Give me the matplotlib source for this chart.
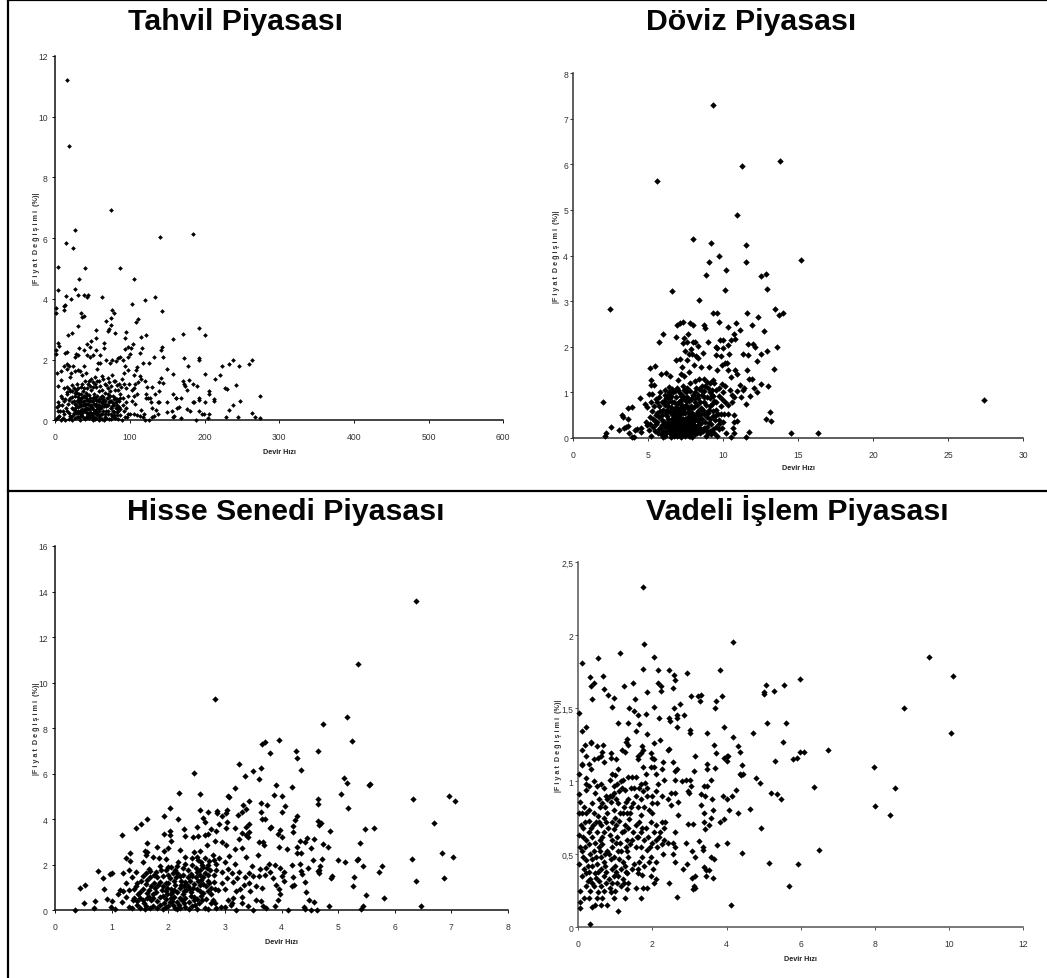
import matplotlib
matplotlib.use("Agg")
import matplotlib.pyplot as plt
import numpy as np
from matplotlib.lines import Line2D

plt.rcParams["font.family"] = ["Liberation Sans", "DejaVu Sans"]

W, H = 1047, 979

# (devir hizi, |fiyat degisimi|)
tahvil = [
    (15,11.2),(18,9.03),(75,6.92),(185,6.13),(140,6.05),(26,6.27),(14,5.84),(24,5.67),(3,5.05),(40,5.02),(87,5.01),
    (106,4.66),(32,4.67),(3,4.3),(27,4.33),(30,4.12),(38,4.13),(43,4.05),(44,4.13),(63,4.05),(14,4.08),(21,4.0),
    (133,4.05),(120,3.96),(103,3.83),(1,3.7),(1,3.52),(11,3.78),(13,3.8),(11,3.63),(35,3.54),(36,3.4),(38,3.43),
    (30,3.1),(76,3.63),(79,3.55),(143,3.6),(74,3.37),(68,3.26),(74,3.15),(111,3.35),(108,3.23),(71,2.95),(72,3.0),
    (80,2.88),(55,2.97),(95,2.92),(192,3.05),(171,2.83),(201,2.8),(121,2.82),(115,2.73),(158,2.68),(17,2.8),(23,2.88),
    (54,2.7),(93,2.7),(48,2.6),(65,2.53),(43,2.5),(104,2.5),(3,2.55),(5,2.45),(1,2.2),(1,2.3),(65,2.38),(32,2.37),
    (38,2.3),(47,2.4),(55,2.33),(94,2.35),(98,2.4),(102,2.38),(143,2.4),(141,2.33),(116,2.38),(15,2.25),(13,2.22),
    (28,2.2),(26,2.1),(30,2.15),(43,2.15),(46,2.1),(50,2.15),(60,2.15),(100,2.2),(98,2.1),(113,2.22),(144,2.1),
    (172,2.05),(193,2.05),(192,1.98),(238,2.0),(264,2.0),(223,1.78),(233,1.85),(246,1.78),(259,1.87),(178,1.8),
    (125,1.9),(117,1.9),(132,2.08),(149,1.68),(157,1.54),(171,1.3),(172,1.2),(174,1.12),(176,1.0),(179,1.33),
    (184,1.18),(200,1.52),(190,1.12),(214,1.35),(220,1.5),(227,1.05),(230,1.03),(242,1.15),(206,0.95),(206,0.85),
    (212,0.7),(213,0.65),(158,0.85),(161,0.75),(162,0.72),(168,0.72),(184,0.6),(186,0.6),(192,0.68),(193,0.75),
    (201,0.6),(247,0.65),(238,0.5),(232,0.35),(274,0.8),(264,0.25),(267,0.12),(274,0.07),(245,0.12),(228,0.12),
    (206,0.22),(204,0.07),(197,0.22),(199,0.2),(192,0.3),(176,0.38),(181,0.32),(165,0.45),(163,0.4),(156,0.32),
    (150,0.28),(149,0.6),(139,0.6),(137,0.6),(135,0.35),(133,0.85),(130,0.4),(129,0.1),(126,0.02),(120,0.0),
    (119,0.2),(118,0.12),(113,0.15),(110,0.18),(105,0.2),(100,0.2),(96,0.1),(188,0.0),(168,0.07),(159,0.15),
    (158,0.1),(137,0.2),(132,0.15),(128,0.6),(124,0.75),(122,0.85),(121,0.75),(127,0.75),(130,1.1),(123,1.1),
    (120,1.3),(113,1.45),(111,1.25),(107,1.2),(105,1.05),(103,1.0),(109,0.85),(105,0.8),(103,0.65),(107,0.55),
    (115,0.35),(141,1.4),(139,1.25),(144,1.22),(139,0.98),(115,1.35),(109,1.75),(108,1.65),(105,1.5),
    (8,1.62),(2,1.55),(4,1.12),(7,1.32),(11,1.8),(15,1.85),(16,1.7),(18,1.8),(21,1.55),(24,1.78),(20,1.42),(27,1.62),
    (31,1.65),(33,1.62),(36,1.5),(39,1.78),(41,1.55),(45,1.3),(48,1.35),(51,1.25),(53,1.43),(56,1.68),(57,1.9),
    (60,1.9),(62,1.45),(59,1.3),(68,2.0),(71,1.4),(73,1.9),(76,2.0),(76,1.5),(78,1.3),(81,1.95),(84,2.05),(87,2.07),
    (89,1.35),(90,1.98),(92,1.55),(94,1.8),(97,1.65),(99,1.2),(95,1.05),(85,1.2),(84,1.0),(71,1.05),(66,1.2),(63,1.0),
    (12,1.05),(16,1.1),(20,0.95),(23,1.15),(26,0.9),(29,1.2),(31,1.05),(34,0.85),(37,0.95),(41,0.9),(43,1.05),(48,1.0),
    (52,0.85),(55,1.1),(58,0.95),(62,0.8),(66,0.9),(70,0.85),(73,0.95),(77,0.8),(80,1.0),(83,0.7),(87,0.85),(91,0.75),
    (95,0.6),(98,0.8),(2,0.45),(4,0.6),(6,0.3),(7,0.8),(9,0.5),(11,0.62),(12,0.2),(14,0.4),(15,0.88),(17,0.55),(19,0.25),
    (20,0.72),(22,0.42),(24,0.18),(25,0.62),(26,0.35),(27,0.8),(28,0.5),(29,0.12),(30,0.68),(31,0.3),(32,0.85),(33,0.48),
    (34,0.2),(35,0.72),(36,0.38),(37,0.6),(38,0.08),(39,0.8),(40,0.5),(41,0.28),(42,0.68),(43,0.15),(44,0.55),(45,0.82),
    (46,0.36),(47,0.62),(48,0.1),(49,0.45),(50,0.72),(51,0.24),(52,0.55),(53,0.04),(54,0.66),(55,0.34),(56,0.8),(57,0.18),
    (58,0.5),(59,0.7),(60,0.06),(61,0.4),(62,0.6),(63,0.22),(64,0.78),(65,0.48),(66,0.12),(67,0.62),(68,0.32),(69,0.72),
    (70,0.2),(71,0.52),(72,0.04),(73,0.8),(74,0.4),(75,0.62),(76,0.14),(77,0.3),(78,0.7),(79,0.5),(80,0.08),(81,0.6),
    (82,0.26),(83,0.42),(85,0.62),(86,0.16),(87,0.36),(89,0.02),(90,0.5),(92,0.3),(93,0.12),(95,0.42),(97,0.2),
    (1,0.05),(3,0.1),(5,0.15),(8,0.02),(10,0.08),(13,0.0),(18,0.05),(21,0.1),(23,0.02),(27,0.06),(31,0.1),(33,0.02),
    (36,0.14),(40,0.04),(42,0.12),(45,0.06),(47,0.2),(50,0.02),(52,0.1),(55,0.08),(58,0.02),(62,0.05),(65,0.02),(68,0.08),
    (74,0.03),(78,0.1),(84,0.05),(28,0.25),(33,0.3),(38,0.35),(43,0.42),(37,0.5),(32,0.58),(41,0.72),(35,0.52),(47,0.28),
    (23,0.78),(26,0.55),(29,0.9),(31,0.45),(33,0.7),(35,0.3),(37,0.78),(39,0.62),(41,0.42),(43,0.82),(45,0.62),(46,0.22),
    (48,0.52),(50,0.38),(52,0.78),(54,0.46),(56,0.25),(58,0.62),(60,0.42),(62,0.7),(64,0.32),(66,0.55),(68,0.46),(70,0.72),
    (72,0.6),(74,0.22),(76,0.48),(78,0.16),(80,0.72),(82,0.52),(84,0.3),(86,0.74),(30,0.25),(34,0.62),(38,0.5),(42,0.25),
    (44,0.38),(47,0.72),(49,0.18),(51,0.62),(53,0.3),(55,0.55),(57,0.42),(59,0.14),(61,0.78),(63,0.46),(65,0.66),(67,0.2),
    (69,0.52),(71,0.3),(73,0.62),(75,0.42),(77,0.56),(79,0.28),(81,0.42),(83,0.18),(85,0.45),(25,0.25),(27,0.42),(29,0.62),
    (31,0.78),(33,0.12),(35,0.18),(37,0.28),(39,0.35),(41,0.55),(43,0.68),(45,0.18),(47,0.48),(49,0.62),(51,0.08),(53,0.72),
    (55,0.2),(57,0.62),(59,0.32),(61,0.22),(63,0.58),(10,0.3),(13,0.7),(16,0.32),(18,0.68),(20,0.15),(22,0.6),(24,0.38),
    (9,0.75),(5,0.5),(3,0.3),(16,0.92),(19,1.02),(22,0.98),(25,1.05),(28,1.0),(34,1.1),(36,1.2),(38,1.05),(40,1.28),(44,1.2),
    (46,1.12),(50,1.1),(53,1.18),(56,1.3),(60,1.12),(64,1.35),(68,1.15),(72,1.25),(75,1.12),(80,1.3),(82,1.15),(88,1.1),(92,1.18),
]
tahvil_x_ticks = [0, 100, 200, 300, 400, 500, 600]
tahvil_y_ticks = [0, 2, 4, 6, 8, 10, 12]

doviz = [
    (9.35,7.3),(13.8,6.07),(11.25,5.96),(5.6,5.63),(10.95,4.89),(8,4.37),(9.2,4.27),(11.5,4.23),(9.75,4.0),(15.2,3.91),
    (9.05,3.85),(11.5,3.85),(10.2,3.68),(12.85,3.6),(12.5,3.56),(8.85,3.58),(12.9,3.27),(10.1,3.25),(6.6,3.23),(8.4,3.03),
    (2.45,2.83),(13.45,2.82),(9.3,2.75),(9.6,2.74),(11.6,2.75),(14,2.73),(13.75,2.69),(12.3,2.66),(7.3,2.55),(7.1,2.52),
    (6.95,2.48),(7.8,2.53),(8,2.47),(8.7,2.48),(8.8,2.42),(9.75,2.55),(10.85,2.51),(11.95,2.47),(10.35,2.44),(11.1,2.36),
    (12.7,2.34),(10.7,2.28),(6.0,2.28),(7.65,2.28),(5.7,2.1),(6.85,2.22),(7.4,2.2),(10.8,2.18),(10.5,2.15),(9.8,2.14),
    (10,2.15),(9,2.1),(7.3,2.08),(7.6,2.1),(8,2.1),(8.1,2.1),(12,2.07),(11.65,2.07),(12.15,2.0),(13.6,2.0),(9.5,2.0),
    (9.6,1.97),(10,1.97),(10.3,2.04),(8.35,2.02),(12.9,1.9),(7.45,1.9),(7.85,1.95),(7.75,1.85),(7.95,1.85),(8.65,1.87),
    (9.55,1.82),(9.85,1.8),(10.4,1.85),(11.3,1.85),(11.65,1.83),(12.55,1.84),(12.25,1.68),(8.2,1.8),(8.3,1.75),(7.6,1.7),
    (7.1,1.73),(6.85,1.7),(10.25,1.65),(10.1,1.65),(9.9,1.6),(8.05,1.6),(7.25,1.55),(5.45,1.58),(5.15,1.54),(8.5,1.55),
    (9.05,1.55),(13.4,1.52),(11.6,1.5),(10.35,1.5),(10.8,1.48),(9.6,1.5),(10.95,1.4),(6.45,1.36),(5.85,1.4),(6.2,1.43),
    (5.2,1.27),(7.2,1.4),(7.4,1.35),(7.0,1.28),(7.7,1.45),(8.4,1.3),(8.7,1.3),(9.3,1.28),(10.5,1.33),(11.7,1.3),(11.9,1.3),
    (5.2,1.16),(5.4,1.16),(2,0.78),(2.1,0.05),(2.2,0.1),(2.55,0.25),(3.05,0.17),(3.25,0.5),(3.3,0.45),(3.4,0.22),(3.55,0.25),
    (3.65,0.27),(3.65,0.65),(3.9,0.68),(3.65,0.42),(3.7,0.12),(3.9,0.02),(4.05,0.02),(4.1,0.18),(4.25,0.2),(4.5,0.22),
    (4.55,0.13),(4.45,0.88),(4.8,0.75),(5.05,0.96),(5.25,0.97),(4.95,0.67),(5.2,0.8),(13.1,0.58),(12.85,0.41),(13.2,0.38),
    (13,1.14),(11.5,0.75),(11.7,0.13),(14.5,0.1),(16.3,0.12),(27.35,0.83),(11.5,0.02),(10.5,0.02),(10.75,0.1),(10.2,0.1),
    (12.5,1.18),(12.05,1.1),(12.25,1.0),(11.2,0.9),(11.35,1.05),(11.4,1.1),(11.8,0.92),(11.1,1.17),(10.9,1.02),(10.75,0.9),
    (10.6,0.95),(10.45,1.05),(10.15,1.15),(9.9,1.18),(9.7,1.1),(10.6,0.78),(10.3,0.72),(10.7,0.5),(10.75,0.35),(10.9,0.37),
    (10.65,0.22),(10.3,0.52),(4.85,0.35),(4.9,0.28),(5.1,0.45),(5.15,0.3),(5.05,0.18),(5.2,0.05),(5.35,0.42),(5.45,0.15),
    (5.55,0.3),(5.6,0.55),(5.7,0.7),(5.75,0.9),(5.8,1.0),(5.7,0.2),(5.85,0.08),(5.9,0.4),(6.0,0.62),(6.05,0.82),(6.1,1.05),
    (6.1,0.25),(6.2,0.12),(6.25,0.48),(6.3,0.7),(6.35,0.95),(6.4,1.12),(6.4,0.3),(6.5,0.03),(6.55,0.55),(6.6,0.8),(6.65,1.0),
    (6.65,0.2),(6.75,0.38),(6.8,0.65),(6.85,0.9),(6.9,1.1),(6.9,0.1),(7.0,0.5),(7.05,0.78),(7.1,0.98),(7.1,0.28),(7.2,0.02),
    (7.25,0.62),(7.3,0.85),(7.35,1.15),(7.35,0.18),(7.45,0.42),(7.5,0.72),(7.55,1.0),(7.55,0.08),(7.65,0.3),(7.7,0.55),
    (7.75,0.82),(7.8,1.2),(7.85,0.15),(7.9,0.45),(7.95,0.65),(8.0,0.95),(8.05,0.28),(8.1,0.78),(8.2,1.1),(8.25,0.55),
    (8.3,0.38),(8.35,0.88),(8.45,0.12),(8.5,0.65),(8.55,1.05),(8.6,0.42),(8.7,0.78),(8.75,0.22),(8.8,1.15),(8.85,0.55),
    (8.95,0.9),(9.05,0.32),(9.1,0.7),(9.2,0.08),(9.25,1.05),(9.3,0.48),(9.4,0.82),(9.5,0.25),(9.55,0.62),(9.6,0.05),
    (9.7,0.92),(9.75,0.4),(9.85,0.7),(9.95,0.22),(10.0,1.0),(10.05,0.52),(10.15,0.8),(9.4,1.2),(8.9,1.22),(8.1,1.25),
    (6.6,0.42),(6.8,0.22),(6.95,0.35),(7.15,0.45),(7.3,0.12),(7.4,0.3),(7.6,0.2),(7.15,0.15),(6.3,0.35),(6.5,0.22),(6.0,0.15),
    (7.75,0.38),(7.9,0.1),(8.15,0.18),(8.4,0.3),(5.95,0.28),(6.7,0.05),(7.0,0.12),(7.45,0.05),(7.8,0.25),(8.0,0.4),(6.45,0.6),
    (6.15,0.72),(6.9,0.75),(7.6,0.9),(8.3,0.6),(8.6,0.95),(9.0,0.55),(9.15,0.88),(8.9,0.15),(7.2,0.68),(6.55,0.92),
    (5.4,0.7),(5.5,0.85),(5.25,0.6),(9.7,0.3),(10.0,0.35),(9.35,0.6),(8.5,0.2),(9.1,0.15),(7.35,0.55),(7.85,0.7),
    (6.05,0.35),(6.15,0.05),(6.2,0.55),(6.3,0.18),(6.35,0.42),(6.45,0.12),(6.5,0.32),(6.55,0.08),(6.6,0.27),(6.65,0.5),(6.7,0.15),
    (6.75,0.28),(6.8,0.1),(6.85,0.42),(6.9,0.28),(6.95,0.18),(7.0,0.4),(7.05,0.06),(7.1,0.52),(7.15,0.22),(7.2,0.35),(7.25,0.1),
    (7.3,0.42),(7.35,0.28),(7.4,0.15),(7.45,0.55),(7.5,0.22),(7.55,0.38),(7.6,0.12),(7.65,0.47),(7.7,0.05),(7.75,0.18),(7.8,0.32),
    (7.85,0.5),(7.9,0.22),(7.95,0.02),(8.0,0.3),(8.05,0.5),(8.1,0.08),(8.15,0.4),(8.2,0.25),(8.25,0.12),(8.3,0.5),(8.35,0.2),
    (6.25,0.62),(6.35,0.78),(6.45,0.88),(6.55,0.68),(6.65,0.6),(6.75,0.78),(6.85,0.55),(6.95,0.65),(7.05,0.6),(7.15,0.82),(7.25,0.72),
    (7.35,0.92),(7.45,0.65),(7.55,0.82),(7.65,0.65),(7.75,0.6),(7.85,0.85),(7.95,0.55),(8.05,0.68),(8.15,0.88),(8.25,0.72),(8.35,0.52),
    (8.45,0.78),(8.55,0.52),(8.65,0.62),(8.75,0.9),(8.85,0.72),(8.95,0.45),(9.05,0.62),(9.15,1.0),(9.25,0.75),(9.35,0.92),(9.45,0.4),
    (9.55,0.78),(9.65,0.52),(9.75,0.2),(9.85,0.52),(9.95,0.85),(8.45,0.42),(8.55,0.32),(8.65,0.15),(8.7,0.52),(8.8,0.35),(8.85,0.05),
    (8.95,0.25),(9.0,0.1),(9.1,0.42),(9.2,0.3),(9.3,0.2),(9.4,0.12),(9.5,0.5),(6.1,0.95),(6.2,0.88),(6.4,1.0),(6.6,1.08),(6.8,1.02),
    (7.0,1.05),(7.2,0.92),(7.4,1.05),(7.6,1.1),(7.8,1.02),(7.9,0.88),(8.1,1.0),(8.3,0.95),(8.4,1.08),(8.6,1.15),(8.75,1.02),(9.0,1.1),
    (9.1,1.2),(9.25,0.95),(9.5,1.05),(5.6,0.35),(5.65,0.12),(5.75,0.45),(5.8,0.6),(5.85,0.25),(5.9,0.78),(5.95,0.5),(6.0,0.02),(5.5,0.5),
    (5.3,0.25),(5.6,0.78),(5.45,0.38),(6.82,0.32),(7.02,0.22),(7.22,0.27),(7.42,0.2),(7.62,0.38),(7.82,0.05),(7.12,0.35),(6.72,0.45),
    (6.92,0.05),(7.52,0.32),(7.72,0.42),(7.32,0.22),(7.08,0.14),(6.58,0.14),(6.38,0.22),(6.28,0.28),(8.22,0.42),(8.42,0.22),
]
doviz_x_ticks = [0, 5, 10, 15, 20, 25, 30]
doviz_y_ticks = [0, 1, 2, 3, 4, 5, 6, 7, 8]

hisse = [
    (6.37,13.58),(5.35,10.82),(2.83,9.3),(5.16,8.47),(4.74,8.18),(3.95,7.48),(5.25,7.45),(3.7,7.4),(3.65,7.3),(4.25,7.0),
    (4.65,7.0),(3.8,6.9),(4.28,6.7),(3.24,6.43),(3.64,6.27),(4.35,6.17),(3.5,6.13),(2.46,6.05),(3.35,5.92),(3.6,5.78),
    (5.1,5.82),(5.15,5.57),(5.57,5.55),(5.55,5.5),(3.9,5.5),(5.05,5.1),(3.18,5.35),(4.18,5.4),(2.18,5.15),(2.55,5.12),
    (3.87,5.08),(4.0,5.0),(3.05,5.0),(3.08,4.97),(6.97,5.02),(7.06,4.8),(6.33,4.88),(4.64,4.88),(4.64,4.68),(3.43,4.8),
    (3.64,4.73),(3.75,4.62),(3.32,4.62),(4.07,4.57),(5.17,4.48),(2.03,4.5),(2.55,4.42),(2.86,4.38),(3.04,4.42),(3.02,4.27),
    (3.37,4.45),(3.3,4.32),(3.23,4.2),(2.7,4.32),(2.86,4.28),(3.63,4.3),(4.0,4.33),(4.27,4.15),(2.95,4.15),(1.92,4.12),
    (1.62,4.03),(2.17,4.0),(2.62,4.07),(3.65,4.0),(3.7,4.02),(4.23,3.95),(4.65,3.93),(4.7,3.85),(4.66,3.75),(3.04,3.88),
    (2.65,3.87),(3.43,3.8),(2.9,3.8),(1.51,3.8),(1.42,3.6),(3.82,3.65),(3.8,3.63),(4.2,3.72),(5.47,3.55),(5.63,3.62),
    (6.7,3.83),(4.85,3.5),(2.28,3.55),(2.03,3.5),(2.5,3.65),(2.75,3.55),(3.02,3.6),(3.18,3.62),(2.85,3.5),(3.38,3.65),
    (3.97,3.52),(4.2,3.42),(3.93,3.37),(3.42,3.42),(3.3,3.38),(1.92,3.33),(2.02,3.3),(1.18,3.3),(2.3,3.25),(2.43,3.2),
    (2.52,3.25),(2.65,3.3),(2.7,3.35),(3.38,3.3),(3.4,3.2),(3.25,3.15),(4.0,3.2),(4.45,3.17),(4.57,3.15),(4.33,3.03),
    (4.42,3.0),(5.38,2.97),(1.62,2.95),(2.04,3.05),(2.83,3.05),(2.95,3.0),(3.02,2.85),(3.6,3.0),(3.68,2.98),(4.74,2.9),
    (3.95,2.78),(4.27,2.77),(4.83,2.77),(1.8,2.78),(2.0,2.73),(2.2,2.63),(2.68,2.88),(1.93,2.6),(1.58,2.62),(1.62,2.55),
    (2.45,2.55),(2.55,2.6),(3.18,2.68),(3.3,2.75),(4.1,2.7),(4.53,2.72),(3.69,2.85),(4.27,2.5),(4.35,2.53),(1.32,2.52),
    (6.83,2.53),(7.04,2.33),(6.3,2.27),(5.0,2.23),(5.13,2.1),(5.33,2.23),(5.36,2.25),(5.45,1.95),(5.78,1.95),(5.73,1.68),
    (6.87,1.43),(6.37,1.3),(5.28,1.48),(5.27,1.08),(4.9,1.5),(4.88,1.4),(4.55,2.2),(4.72,2.27),(4.68,1.95),(4.66,1.78),
    (4.64,1.72),(4.67,1.65),(4.33,2.05),(4.46,1.85),(4.35,1.72),(4.37,1.6),(4.42,1.25),(4.18,2.0),(4.2,1.47),(4.22,1.1),
    (4.18,1.05),(3.98,1.85),(4.0,1.5),(4.05,1.3),(4.05,1.68),(3.88,2.0),(3.78,2.05),(3.72,1.85),(3.85,1.4),(3.8,1.7),
    (3.9,1.1),(3.95,0.95),(3.97,0.7),(3.93,0.45),(3.88,0.2),(4.12,0.02),(4.4,0.15),(4.43,0.8),(4.48,0.45),(4.58,0.35),
    (4.53,0.02),(4.62,0.03),(4.84,0.17),(5.4,0.07),(5.45,0.17),(5.49,0.67),(5.81,0.55),(6.47,0.17),(4.42,0.05),(0.34,0.0),
    (0.43,0.97),(0.52,1.12),(0.5,0.3),(0.7,0.42),(0.69,0.1),(0.75,1.72),(0.85,1.4),(0.87,0.95),(0.92,0.5),(0.96,1.6),
    (1.01,1.65),(0.98,0.15),(1.0,0.4),(1.05,0.05),(1.1,0.7),(1.15,0.88),(1.18,0.35),(1.2,1.65),(1.25,1.2),(1.25,0.6),
    (1.25,2.3),(1.32,2.18),(1.3,1.78),(1.35,1.45),(1.3,0.15),(1.38,0.45),(1.43,1.7),(1.45,1.2),(1.47,0.72),(1.5,0.1),
    (1.55,2.1),(1.55,1.5),(1.55,0.95),(1.57,0.3),(1.6,2.45),(1.63,1.35),(1.65,0.6),(1.68,1.72),(1.7,1.05),(1.72,0.2),
    (1.72,2.35),(1.75,1.55),(1.78,0.8),(1.8,0.4),(1.83,2.3),(1.85,1.25),(1.87,1.75),(1.9,0.65),(1.9,0.05),(1.95,2.27),
    (1.97,1.0),(2.0,1.55),(2.02,0.35),(2.05,1.9),(2.07,0.8),(2.1,1.3),(2.12,0.1),(2.15,1.65),(2.17,2.1),(2.2,0.55),
    (2.22,1.1),(2.25,1.85),(2.28,0.3),(2.3,2.35),(2.32,0.9),(2.35,1.45),(2.37,0.05),(2.4,0.65),(2.42,2.0),(2.45,1.15),
    (2.47,0.25),(2.5,1.7),(2.52,2.2),(2.55,0.85),(2.57,1.35),(2.6,0.45),(2.62,1.9),(2.65,0.1),(2.67,1.05),(2.7,1.55),
    (2.72,2.15),(2.75,0.7),(2.78,2.45),(2.8,1.25),(2.83,0.3),(2.85,1.75),(2.88,0.9),(2.9,2.3),(2.93,0.15),(2.95,1.2),
    (3.0,0.95),(3.03,1.4),(3.05,0.45),(3.08,2.4),(3.1,0.25),(3.13,1.65),(3.15,0.55),(3.18,2.05),(3.2,0.02),(3.22,1.4),
    (3.27,0.95),(3.3,0.6),(3.33,1.1),(3.37,2.35),(3.4,0.2),(3.42,1.65),(3.45,0.85),(3.47,1.95),(3.5,0.02),(3.55,0.45),
    (3.58,2.45),(3.6,1.5),(3.63,0.4),(3.66,1.0),(3.68,0.2),(3.7,1.55),(3.73,0.1),(1.2,0.85),(1.3,0.9),(1.4,0.55),(1.5,0.55),
    (1.6,0.2),(1.62,0.78),(1.75,1.2),(1.85,0.25),(1.95,0.5),(2.05,0.55),(2.1,0.9),(2.15,0.35),(2.25,0.7),(2.3,1.25),
    (2.38,0.95),(2.45,0.45),(2.55,1.1),(2.62,0.75),(2.7,1.3),(2.0,1.2),(1.9,1.05),(1.8,1.45),(2.2,1.5),(2.4,1.6),(2.55,1.75),
    (2.62,1.45),(2.35,1.05),(2.05,0.7),(1.95,0.85),(1.7,0.45),(1.58,0.05),(1.45,0.25),(1.35,0.08),(1.8,0.1),(2.2,0.12),
    (2.42,0.18),(2.75,0.3),(2.5,0.5),(2.28,1.05),(1.72,0.7),(2.12,1.75),(2.48,1.45),
    (1.6,1.15),(1.65,0.9),(1.68,1.45),(1.73,0.55),(1.76,0.98),(1.78,1.7),(1.82,1.1),(1.85,0.6),(1.88,0.9),(1.9,1.5),(1.92,0.3),
    (1.95,1.2),(1.98,0.7),(2.0,0.2),(2.02,1.4),(2.04,0.95),(2.06,0.42),(2.08,1.65),(2.1,0.6),(2.12,1.1),(2.14,1.45),(2.16,0.8),
    (2.18,0.25),(2.2,1.0),(2.22,1.3),(2.24,0.45),(2.26,1.55),(2.28,0.85),(2.3,0.55),(2.32,1.15),(2.34,1.75),(2.36,0.35),(2.38,1.3),
    (2.4,0.8),(2.42,1.5),(2.44,1.0),(2.46,0.6),(2.48,1.85),(2.5,0.95),(2.52,1.3),(2.54,0.3),(2.56,1.55),(2.58,0.65),(2.6,2.0),
    (2.62,1.15),(2.64,1.65),(2.66,0.5),(2.68,1.85),(2.7,0.85),(2.72,1.2),(2.74,1.75),(2.76,1.0),(2.78,0.45),(2.8,1.55),(2.82,0.95),
    (1.4,0.95),(1.45,0.4),(1.5,0.8),(1.55,0.45),(1.6,1.65),(1.62,0.55),(1.42,1.05),(1.52,1.3),(1.65,1.8),(1.85,1.95),(1.95,1.75),
    (2.0,1.9),(2.15,1.95),(2.3,2.05),(2.42,2.3),(2.5,2.35),(2.58,2.1),(2.65,2.3),(2.7,2.0),(2.8,2.2),(2.85,2.05),(2.95,1.7),(3.0,2.1),
    (3.05,1.8),(3.15,1.25),(3.2,0.85),(3.25,1.7),(3.35,1.45),(3.42,1.2),(3.5,1.5),(3.55,1.05),(3.62,1.8),(2.15,0.05),(2.3,0.15),
    (2.5,0.05),(2.7,0.05),(2.85,0.1),(3.0,0.15),(3.12,0.3),(3.3,0.3),(1.68,0.12),(1.95,0.15),(2.08,0.25),
]
hisse_x_ticks = [0, 1, 2, 3, 4, 5, 6, 7, 8]
hisse_y_ticks = [0, 2, 4, 6, 8, 10, 12, 14, 16]

vadeli = [
    (1.74,2.33),(1.77,1.94),(4.17,1.95),(9.46,1.85),(0.52,1.84),(2.04,1.85),(1.13,1.88),(0.11,1.81),(1.75,1.77),(2.15,1.76),
    (2.45,1.76),(2.94,1.74),(2.58,1.73),(3.83,1.76),(0.32,1.71),(0.67,1.72),(10.1,1.72),(5.99,1.7),(2.61,1.69),(0.43,1.67),
    (1.48,1.67),(2.15,1.67),(0.33,1.65),(1.22,1.65),(2.24,1.65),(2.55,1.64),(2.24,1.62),(5.07,1.66),(5.55,1.66),(0.68,1.63),
    (1.85,1.61),(5.0,1.61),(5.0,1.6),(5.27,1.62),(0.8,1.59),(3.05,1.58),(3.24,1.58),(3.3,1.59),(3.88,1.58),(0.36,1.56),
    (0.96,1.57),(1.53,1.56),(3.27,1.55),(3.72,1.55),(0.9,1.51),(2.03,1.51),(2.58,1.5),(3.68,1.5),(1.38,1.5),(8.78,1.5),
    (1.5,1.48),(0.02,1.47),(2.75,1.53),(1.83,1.46),(2.65,1.45),(2.85,1.45),(1.62,1.45),(2.17,1.43),(2.44,1.43),(2.67,1.43),
    (1.07,1.4),(1.35,1.4),(1.64,1.39),(2.46,1.41),(5.1,1.4),(5.6,1.4),(0.21,1.37),(2.65,1.37),(3.92,1.37),(0.09,1.34),
    (1.55,1.34),(3.0,1.35),(3.02,1.33),(3.46,1.33),(4.7,1.33),(10.05,1.33),(1.84,1.32),(4.18,1.3),(1.3,1.29),(1.28,1.27),
    (0.33,1.27),(0.35,1.26),(0.66,1.25),(2.2,1.28),(0.17,1.25),(0.5,1.24),(1.33,1.25),(2.03,1.26),(3.65,1.25),(4.3,1.24),
    (5.53,1.27),(0.1,1.21),(1.18,1.21),(1.25,1.2),(1.73,1.24),(1.75,1.21),(2.45,1.22),(2.42,1.21),(4.35,1.2),(3.7,1.19),
    (5.97,1.2),(6.09,1.2),(6.74,1.21),(0.2,1.17),(0.65,1.2),(0.88,1.19),(1.97,1.19),(1.98,1.16),(1.62,1.17),(1.68,1.19),
    (0.6,1.17),(0.54,1.16),(0.42,1.15),(0.68,1.13),(0.88,1.16),(1.03,1.15),(2.05,1.15),(3.14,1.17),(3.92,1.16),(4.0,1.17),
    (4.05,1.17),(4.0,1.14),(5.3,1.14),(5.8,1.15),(5.9,1.16),(0.1,1.12),(0.3,1.12),(0.1,1.11),(1.6,1.15),(1.95,1.1),(2.03,1.1),
    (2.28,1.13),(2.55,1.13),(3.48,1.12),(4.42,1.11),(7.97,1.1),(0.34,1.08),(1.07,1.08),(1.75,1.1),(2.27,1.08),(2.67,1.08),
    (2.62,1.07),(3.13,1.07),(3.47,1.08),(3.68,1.09),(0.03,1.05),(0.9,1.05),(1.0,1.04),(1.55,1.03),(1.82,1.05),(2.1,1.05),
    (4.35,1.05),(4.4,1.04),(4.45,1.05),(0.2,1.02),(0.85,1.01),(1.35,1.03),(1.45,1.03),(1.2,1.01),(1.15,1.0),(2.32,1.01),
    (2.6,1.01),(2.8,1.0),(2.9,1.01),(3.0,1.01),(3.58,1.01),(4.8,1.02),(0.42,1.0),(0.22,0.98),(0.28,0.97),(0.6,0.98),(0.5,0.97),
    (1.05,0.98),(0.97,0.97),(1.7,0.98),(1.8,0.99),(1.65,0.95),(2.15,0.98),(3.03,0.97),(3.38,0.97),(3.48,0.97),(4.9,0.99),
    (6.35,0.96),(8.53,0.95),(0.2,0.94),(1.25,0.94),(1.5,0.95),(1.85,0.95),(2.97,0.93),(4.25,0.94),(3.3,0.91),(0.03,0.91),
    (0.75,0.9),(0.85,0.9),(1.1,0.93),(1.35,0.88),(1.55,0.9),(2.0,0.9),(2.1,0.93),(2.25,0.9),(2.5,0.92),(2.62,0.92),(2.98,0.92),
    (3.42,0.9),(3.9,0.9),(4.15,0.9),(5.2,0.92),(5.35,0.91),(5.47,0.88),(0.55,0.88),(0.65,0.85),(0.88,0.86),(1.02,0.88),
    (1.28,0.86),(1.7,0.88),(2.42,0.88),(2.13,0.85),(2.7,0.86),(3.6,0.88),(4.02,0.88),(0.05,0.86),(0.72,0.82),(0.95,0.8),
    (1.08,0.85),(1.42,0.82),(1.78,0.82),(1.9,0.8),(2.5,0.84),(3.3,0.84),(8.0,0.83),(3.63,0.8),(4.07,0.8),(4.62,0.81),
    (0.02,0.78),(0.1,0.78),(0.2,0.78),(0.3,0.8),(0.42,0.78),(0.52,0.76),(0.68,0.75),(0.78,0.78),(1.2,0.78),(1.4,0.78),(1.7,0.77),
    (2.7,0.77),(3.4,0.78),(4.3,0.78),(8.4,0.77),(0.08,0.7),(0.18,0.72),(0.3,0.73),(0.4,0.7),(0.48,0.72),(0.62,0.7),(0.75,0.72),
    (0.9,0.72),(1.0,0.75),(1.1,0.73),(1.25,0.7),(1.38,0.74),(1.55,0.7),(1.65,0.72),(1.72,0.68),(1.95,0.72),(2.1,0.7),(2.25,0.72),
    (2.35,0.72),(2.95,0.71),(3.1,0.71),(3.38,0.72),(3.58,0.75),(3.82,0.72),(3.92,0.74),(4.93,0.68),(0.03,0.63),(0.13,0.62),
    (0.28,0.65),(0.38,0.62),(0.5,0.65),(0.58,0.6),(0.7,0.65),(0.85,0.63),(0.95,0.67),(1.05,0.62),(1.18,0.65),(1.3,0.6),(1.48,0.65),
    (1.6,0.62),(1.78,0.6),(1.88,0.62),(2.05,0.65),(2.18,0.62),(2.3,0.68),(2.62,0.65),(3.42,0.67),(3.53,0.7),(0.05,0.55),(0.18,0.55),
    (0.3,0.57),(0.42,0.52),(0.55,0.55),(0.65,0.57),(0.78,0.52),(0.9,0.55),(1.03,0.58),(1.15,0.52),(1.28,0.55),(1.4,0.57),(1.55,0.55),
    (1.7,0.55),(1.85,0.53),(1.98,0.58),(2.12,0.55),(2.25,0.57),(2.42,0.58),(2.55,0.58),(2.62,0.55),(2.9,0.58),(3.25,0.59),(3.35,0.55),
    (3.75,0.56),(4.02,0.58),(6.48,0.53),(0.02,0.43),(0.12,0.48),(0.25,0.42),(0.38,0.47),(0.5,0.43),(0.6,0.48),(0.72,0.42),(0.88,0.47),
    (1.0,0.42),(1.1,0.47),(1.25,0.42),(1.35,0.48),(1.5,0.43),(1.63,0.45),(1.78,0.42),(1.95,0.48),(2.1,0.45),(2.28,0.5),(2.55,0.5),
    (2.6,0.45),(3.07,0.52),(3.15,0.48),(3.35,0.53),(3.58,0.48),(3.66,0.47),(4.42,0.51),(5.15,0.44),(5.92,0.43),(0.1,0.35),(0.22,0.37),
    (0.32,0.33),(0.45,0.37),(0.55,0.32),(0.68,0.35),(0.82,0.33),(0.95,0.35),(1.08,0.35),(1.2,0.33),(1.32,0.37),(1.62,0.37),(1.72,0.36),
    (1.95,0.35),(2.05,0.3),(2.1,0.33),(2.82,0.4),(2.92,0.43),(3.38,0.41),(3.45,0.39),(3.53,0.39),(3.45,0.35),(3.63,0.34),(3.07,0.34),
    (3.15,0.35),(0.05,0.25),(0.2,0.28),(0.32,0.25),(0.42,0.28),(0.52,0.24),(0.7,0.25),(0.85,0.27),(0.98,0.25),(1.15,0.28),(1.32,0.26),
    (1.55,0.27),(1.75,0.27),(1.85,0.27),(2.45,0.3),(3.08,0.26),(3.12,0.28),(3.15,0.27),(5.67,0.28),(0.05,0.17),(0.15,0.2),(0.37,0.14),
    (0.45,0.15),(0.6,0.15),(0.78,0.15),(0.95,0.2),(1.25,0.2),(1.68,0.2),(2.67,0.21),(4.13,0.15),(0.05,0.13),(1.08,0.11),(0.32,0.02),
    (0.12,0.68),(0.22,0.6),(0.35,0.68),(0.45,0.58),(0.55,0.72),(0.65,0.62),(0.72,0.5),(0.8,0.68),(0.92,0.6),(1.02,0.7),(1.12,0.58),
    (1.22,0.66),(1.35,0.68),(1.45,0.6),(1.58,0.62),(1.68,0.65),(1.82,0.68),(0.1,0.52),(0.2,0.46),(0.32,0.5),(0.48,0.48),(0.58,0.52),
    (0.68,0.45),(0.82,0.5),(0.95,0.48),(1.08,0.52),(1.2,0.45),(1.32,0.52),(0.15,0.4),(0.28,0.38),(0.38,0.42),(0.52,0.38),(0.62,0.4),
    (0.75,0.38),(0.9,0.4),(1.02,0.38),(1.15,0.4),(1.28,0.38),(1.45,0.4),(1.6,0.4),(1.72,0.48),(1.9,0.45),(2.02,0.4),(0.25,0.32),(0.38,0.3),
    (0.48,0.34),(0.62,0.28),(0.75,0.3),(0.92,0.3),(1.05,0.3),(1.22,0.3),(0.3,0.2),(0.5,0.2),(0.65,0.2),(0.88,0.24),(1.35,0.3),(0.15,0.82),
    (0.38,0.85),(0.58,0.82),(0.78,0.88),(0.92,0.9),(1.12,0.78),(1.22,0.82),(1.32,0.78),(1.48,0.85),(1.62,0.82),(1.85,0.9),(1.98,0.85),
    (0.45,0.92),(0.7,0.95),(0.95,0.92),(1.18,0.95),(1.42,0.95),(1.75,0.93),(2.0,0.78),(2.2,0.65),(2.1,0.6),(2.3,0.6),(1.92,0.55),
]
vadeli_x_ticks = [0, 2, 4, 6, 8, 10, 12]
vadeli_y_ticks = [0, 0.5, 1, 1.5, 2, 2.5]
vadeli_y_labels = ["0", "0,5", "1", "1,5", "2", "2,5"]

XLABEL = "Devir Hızı"
YLABEL = "|F i y a t  D e ğ i ş i m i  (%)|"
NARROW = ["Liberation Sans Narrow", "Liberation Sans"]


def panel(title, title_x, title_y, pts, box, xticks, yticks, ms, spine, ypad, ylabels=None, xlab_y=None, ylab_x=None):
    # box = left, right, bottom, top of the plot area in image pixels
    l, r, b, t = box
    ax = fig.add_axes([l / W, 1 - b / H, (r - l) / W, (b - t) / H])
    xs, ys = np.array(pts, dtype=float).T
    ax.plot(xs, ys, ls="none", marker="D", ms=ms, color="black", mew=0, clip_on=False, zorder=3)
    ax.set_xlim(xticks[0], xticks[-1])
    ax.set_ylim(yticks[0], yticks[-1])
    ax.set_xticks(xticks)
    ax.set_yticks(yticks)
    if ylabels:
        ax.set_yticklabels(ylabels)
    ax.spines["top"].set_visible(False)
    ax.spines["right"].set_visible(False)
    ax.spines["left"].set_color(spine)
    ax.spines["bottom"].set_color(spine)
    ax.spines["left"].set_linewidth(1.1)
    ax.spines["bottom"].set_linewidth(1.1)
    ax.tick_params(length=2, width=0.7, color=spine, labelsize=6.2, labelcolor="#333333")
    ax.tick_params(axis="x", pad=6.5)
    ax.tick_params(axis="y", pad=ypad)
    for lb in ax.get_xticklabels() + ax.get_yticklabels():
        lb.set_family(NARROW)
    fig.text(title_x / W, 1 - title_y / H, title, fontsize=21.8, fontweight="bold",
             ha="center", va="baseline", color="#050505")
    fig.text((l + r) / 2 / W, 1 - xlab_y / H, XLABEL, fontsize=5.2, fontweight="bold",
             ha="center", va="center", color="#222222", family=NARROW)
    fig.text(ylab_x / W, 1 - (t + b) / 2 / H, YLABEL, fontsize=5.2, fontweight="bold", rotation=90,
             ha="center", va="center", color="#333333", family=NARROW)


fig = plt.figure(figsize=(W / 100, H / 100), dpi=100)

panel("Tahvil Piyasası", 235.5, 30, tahvil, (55.3, 503.3, 421.3, 57), tahvil_x_ticks, tahvil_y_ticks,
      2.4, "#111111", 3.5, xlab_y=453, ylab_x=37)
panel("Döviz Piyasası", 751.5, 30, doviz, (573, 1023.3, 439, 74), doviz_x_ticks, doviz_y_ticks,
      3.3, "#333333", 1.5, xlab_y=469, ylab_x=557)
panel("Hisse Senedi Piyasası", 286, 520, hisse, (55.3, 507.7, 911.3, 547), hisse_x_ticks, hisse_y_ticks,
      3.2, "#111111", 3.5, xlab_y=943, ylab_x=36)
panel("Vadeli İşlem Piyasası", 797.5, 520, vadeli, (578.3, 1023.3, 928.3, 563), vadeli_x_ticks, vadeli_y_ticks,
      3.2, "#555555", 1.5, ylabels=vadeli_y_labels, xlab_y=960, ylab_x=558)

# table rules around the four panels
fig.add_artist(Line2D([7.7 / W, 7.7 / W], [0, 1], color="black", lw=1.6))
fig.add_artist(Line2D([7.7 / W, 1], [1 - 1.2 / H, 1 - 1.2 / H], color="black", lw=1.6))
fig.add_artist(Line2D([7.7 / W, 1], [1 - 492 / H, 1 - 492 / H], color="black", lw=1.6))

fig.savefig("out.png", dpi=100)
